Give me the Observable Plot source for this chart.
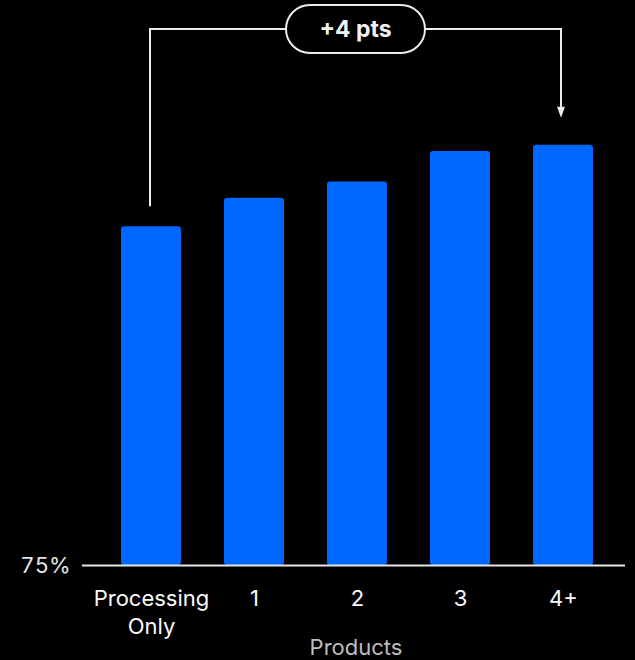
<!DOCTYPE html>
<html>
<head>
<meta charset="utf-8">
<script src="https://cdn.jsdelivr.net/npm/d3@7"></script>
<script src="https://cdn.jsdelivr.net/npm/@observablehq/plot@0.6"></script>
<style>
  html, body { margin: 0; padding: 0; background: #000; }
</style>
</head>
<body>
<div id="chart"></div>
<script>
// Share of accounts by number of products used
const categories = ["Processing Only", "1", "2", "3", "4+"];
const tickLabels = ["Processing\nOnly", "1", "2", "3", "4+"];
const values = [91.6, 93.0, 93.8, 95.3, 95.6];
const baseline = 75;
const yTicks = [75];
const axisTitle = "Products";
const deltaLabel = "+4 pts";

const data = categories.map((category, i) => ({category, value: values[i]}));

// Bracket from the first bar to the last one, with a pill label in the middle
function bracketMark(index, scales, channels, dimensions) {
  const {x, y} = scales;
  const bw = typeof x.bandwidth === "function" ? x.bandwidth()
    : (scales.scales && scales.scales.x ? scales.scales.x.bandwidth : 0);
  const first = data[0];
  const last = data[data.length - 1];
  const xa = x(first.category) + bw / 2 - 1;
  const xb = x(last.category) + bw / 2 - 2;
  const yTop = dimensions.marginTop - 26;
  const yStart = y(first.value) - 20;
  const yTip = y(last.value) - 27;
  const g = d3.create("svg:g");
  const stroke = "#ececec";
  g.append("path")
    .attr("d", `M${xa},${yStart}V${yTop}H${xb}V${yTip - 9}`)
    .attr("fill", "none")
    .attr("stroke", stroke)
    .attr("stroke-width", 2);
  g.append("path")
    .attr("d", `M${xb},${yTip}L${xb - 4},${yTip - 11}L${xb + 4},${yTip - 11}Z`)
    .attr("fill", stroke);
  const cx = (xa + xb) / 2;
  const pw = 139, ph = 48;
  g.append("rect")
    .attr("x", cx - pw / 2)
    .attr("y", yTop - ph / 2)
    .attr("width", pw)
    .attr("height", ph)
    .attr("rx", ph / 2)
    .attr("fill", "#000")
    .attr("stroke", stroke)
    .attr("stroke-width", 2);
  g.append("text")
    .attr("x", cx)
    .attr("y", yTop)
    .attr("dy", "0.36em")
    .attr("text-anchor", "middle")
    .attr("fill", "#f2f2f2")
    .attr("font-size", 23)
    .attr("font-weight", 700)
    .attr("font-family", "Inter, sans-serif")
    .text(deltaLabel);
  return g.node();
}

const chart = Plot.plot({
  width: 635,
  height: 660,
  marginLeft: 82,
  marginRight: 10,
  marginTop: 55,
  marginBottom: 95,
  style: {background: "#000", color: "#fff", fontFamily: "Inter, sans-serif"},
  x: {domain: categories, range: [89, 624], paddingInner: 0.42, paddingOuter: 0.3},
  y: {domain: [75, 100]},
  marks: [
    Plot.barY(data, {x: "category", y1: baseline, y2: "value", fill: "#0068ff", rx: 3}),
    Plot.ruleY([baseline], {stroke: "#e6e6e6", strokeWidth: 2}),
    Plot.axisY({
      ticks: yTicks,
      tickFormat: d => d + "%",
      tickSize: 0,
      tickPadding: 12,
      fontSize: 22,
      color: "#e4e4e4",
      label: null
    }),
    Plot.axisX({
      tickSize: 0,
      tickPadding: 20,
      fontSize: 22,
      lineHeight: 1.3,
      color: "#fafafa",
      tickFormat: d => tickLabels[categories.indexOf(d)],
      label: null
    }),
    Plot.text([axisTitle], {
      text: d => d,
      frameAnchor: "bottom",
      dy: 89,
      dx: 2,
      fontSize: 22,
      fill: "#bdbdbd"
    }),
    bracketMark
  ]
});

document.getElementById("chart").append(chart);
</script>
</body>
</html>
